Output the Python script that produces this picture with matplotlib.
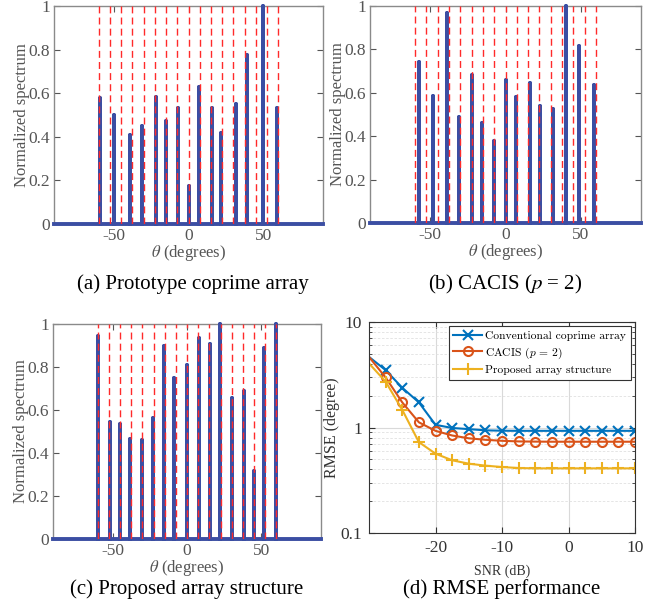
import matplotlib
matplotlib.use("Agg")
import matplotlib.pyplot as plt
from matplotlib.font_manager import FontProperties
from matplotlib.ticker import NullFormatter

plt.rcParams["font.family"] = ["Liberation Serif", "DejaVu Serif"]
plt.rcParams["mathtext.fontset"] = "stix"
plt.rcParams["axes.unicode_minus"] = False

# true source directions (degrees)
source_angles = [-60, -52.5, -45, -37.5, -30, -22.5, -15, -7.5, 0,
                 7.5, 15, 22.5, 30, 37.5, 45, 52.5, 60]

# (a) prototype coprime array
peaks_a = [-58.9, -50.0, -39.3, -31.1, -21.6, -15.1, -6.7, 0.0,
           7.3, 15.6, 21.6, 31.6, 38.9, 49.6, 58.9]
heights_a = [0.579, 0.50, 0.41, 0.449, 0.584, 0.473, 0.534, 0.174,
             0.628, 0.53, 0.416, 0.552, 0.773, 1.0, 0.531]

# (b) CACIS p = 2
peaks_b = [-57.2, -47.9, -39.0, -30.6, -22.4, -15.3, -7.5, 0.4,
           7.1, 16.0, 22.6, 31.5, 40.3, 48.8, 59.0]
heights_b = [0.74, 0.587, 0.966, 0.488, 0.68, 0.463, 0.376, 0.66,
             0.58, 0.644, 0.54, 0.525, 1.0, 0.817, 0.636]

# (c) proposed array structure
peaks_c = [-59.8, -51.5, -44.8, -38.1, -30.5, -22.8, -15.7, -8.5, 0.0,
           8.1, 15.2, 22.4, 30.4, 38.0, 45.2, 51.5, 59.5]
heights_c = [0.944, 0.545, 0.537, 0.463, 0.46, 0.564, 0.899, 0.75, 0.809,
             0.933, 0.905, 1.0, 0.654, 0.688, 0.315, 0.89, 1.0]

# (d) RMSE vs SNR
snr = [-30, -27.5, -25, -22.5, -20, -17.5, -15, -12.5, -10, -7.5,
       -5, -2.5, 0, 2.5, 5, 7.5, 10]
rmse_conv = [4.67, 3.5, 2.38, 1.73, 1.06, 0.99, 0.965, 0.94, 0.932, 0.93,
             0.93, 0.93, 0.93, 0.93, 0.93, 0.93, 0.93]
rmse_cacis = [4.67, 2.98, 1.73, 1.12, 0.93, 0.84, 0.79, 0.765, 0.748, 0.738,
              0.735, 0.733, 0.733, 0.733, 0.733, 0.733, 0.733]
rmse_prop = [4.05, 2.72, 1.47, 0.727, 0.565, 0.489, 0.454, 0.435, 0.422,
             0.413, 0.41, 0.41, 0.41, 0.41, 0.41, 0.41, 0.41]

captions = ["(a) Prototype coprime array", r"(b) CACIS ($p$ = 2)",
            "(c) Proposed array structure", "(d) RMSE performance"]

W, H = 657, 609
fig = plt.figure(figsize=(W / 100, H / 100), dpi=100)


def box(l, t, r, b):
    return [l / W, 1 - b / H, (r - l) / W, (b - t) / H]


spec_color = "#3B4EA3"
gray = "#555555"


def spectrum(ax, peaks, heights):
    xs, ys = [-90], [0]
    for p, h in zip(peaks, heights):
        xs += [p, p, p]
        ys += [0, h, 0]
    xs.append(90)
    ys.append(0)
    ax.plot(xs, ys, color=spec_color, lw=2.8, clip_on=False, zorder=3,
            solid_joinstyle="round")
    for a in source_angles:
        ax.axvline(a, color="#FF2A2A", lw=1.0, ls=(0, (5, 3)), zorder=4)
    ax.set_xlim(-90, 90)
    ax.set_ylim(0, 1)
    ax.set_xticks([-50, 0, 50])
    ax.set_yticks([0, 0.2, 0.4, 0.6, 0.8, 1])
    ax.set_yticklabels(["0", "0.2", "0.4", "0.6", "0.8", "1"])
    ax.tick_params(direction="in", top=True, right=True, labelsize=12.5,
                   colors=gray, length=4, pad=3)
    for s in ax.spines.values():
        s.set_color("#8a8a8a")
        s.set_linewidth(1.0)
    ax.set_xlabel(r"$\theta$ (degrees)", fontsize=12, color=gray, labelpad=-1)
    ax.set_ylabel("Normalized spectrum", fontsize=12, color=gray, labelpad=-1)


ax_a = fig.add_axes(box(54, 6, 323, 224))
spectrum(ax_a, peaks_a, heights_a)
ax_b = fig.add_axes(box(370, 6, 641, 223))
spectrum(ax_b, peaks_b, heights_b)
ax_c = fig.add_axes(box(53, 324, 321, 539))
spectrum(ax_c, peaks_c, heights_c)

ax_d = fig.add_axes(box(369, 322, 635, 533))
marks = list(range(1, len(snr)))
ax_d.plot(snr, rmse_conv, color="#0072BD", marker="x", ms=6.5, mew=1.5, lw=1.5,
          markevery=marks, label="Conventional coprime array")
ax_d.plot(snr, rmse_cacis, color="#D95319", marker="o", ms=6.5, mfc="none",
          mew=1.5, lw=1.5, markevery=marks, label=r"CACIS ($p$ = 2)")
ax_d.plot(snr, rmse_prop, color="#EDB120", marker="+", ms=8.5, mew=1.5, lw=1.5,
          markevery=marks, label="Proposed array structure")
ax_d.set_yscale("log")
ax_d.set_xlim(-30, 10)
ax_d.set_ylim(0.1, 10)
ax_d.set_xticks([-20, -10, 0, 10])
ax_d.set_yticks([0.1, 1, 10])
ax_d.set_yticklabels(["0.1", "1", "10"])
ax_d.yaxis.set_minor_formatter(NullFormatter())
ax_d.grid(True, which="major", color="#d9d9d9", lw=0.8)
ax_d.grid(True, which="minor", axis="y", color="#e0e0e0", lw=0.6, ls=(0, (3, 2)))
ax_d.tick_params(which="both", direction="in", top=True, right=True,
                 labelsize=12.5, colors="#333333", pad=5)
ax_d.tick_params(which="major", length=4)
ax_d.tick_params(which="minor", length=2)
for s in ax_d.spines.values():
    s.set_color("#333333")
    s.set_linewidth(0.8)
ax_d.set_xlabel("SNR (dB)", fontsize=10, color="#333333", labelpad=6)
ax_d.set_ylabel("RMSE (degree)", fontsize=11.5, color="#333333", labelpad=0)
leg_font = FontProperties(family="cmr10", size=8.3, math_fontfamily="cm")
leg = ax_d.legend(loc="upper right", prop=leg_font, frameon=True, fancybox=False,
                  borderpad=0.4, labelspacing=0.4, handlelength=2.5,
                  handletextpad=0.3, borderaxespad=0.35, edgecolor="#333333",
                  framealpha=1)
leg.get_frame().set_linewidth(0.8)

# captions below each panel
cap_pos = [(193, 284), (505, 284), (187, 589), (502, 589)]
for (cx, cy), txt in zip(cap_pos, captions):
    fig.text(cx / W, 1 - cy / H, txt, ha="center", va="center", fontsize=15)

fig.savefig("out.png", dpi=100)
